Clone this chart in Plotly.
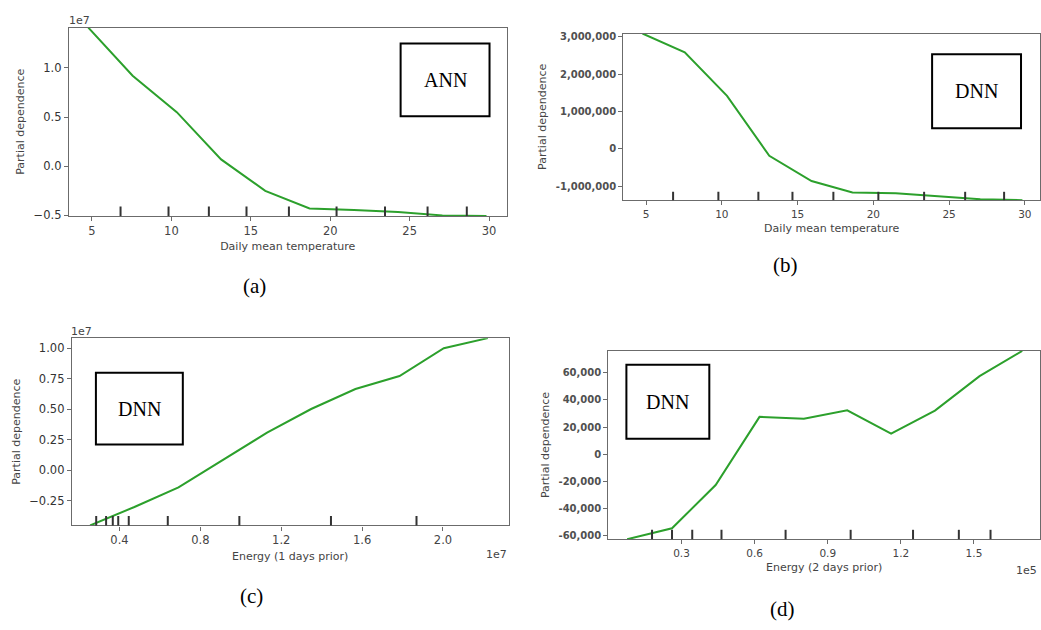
import plotly.graph_objects as go

W, H = 1041, 630

# ---------------- data ----------------
# (a) ANN, daily mean temperature
temp_grid_a = [4.77, 7.56, 10.34, 13.13, 15.91, 18.70, 21.49, 24.27, 27.06, 29.84]
pd_a = [1.41e7, 0.92e7, 0.55e7, 0.07e7, -0.25e7, -0.43e7, -0.445e7, -0.466e7, -0.50e7, -0.505e7]
rug_a = [6.8, 9.82, 12.36, 14.73, 17.4, 20.4, 23.45, 26.13, 28.6]

# (b) DNN, daily mean temperature
temp_grid_b = [4.76, 7.55, 10.34, 13.13, 15.92, 18.62, 21.48, 24.27, 27.06, 29.84]
pd_b = [3087000, 2586000, 1420000, -185000, -860000, -1170000, -1190000, -1260000, -1350000, -1372000]
rug_b = [6.78, 9.77, 12.41, 14.66, 17.36, 20.33, 23.35, 26.06, 28.63]

# (c) DNN, energy 1 day prior (x in 1e7, y in 1e7)
energy1_grid = [0.255, 0.474, 0.692, 0.911, 1.130, 1.348, 1.567, 1.785, 2.004, 2.222]
pd_c = [-0.454, -0.303, -0.142, 0.085, 0.306, 0.50, 0.664, 0.77, 0.998, 1.081]
rug_c = [0.285, 0.334, 0.367, 0.394, 0.446, 0.639, 0.993, 1.446, 1.869]

# (d) DNN, energy 2 days prior (x in 1e5)
energy2_grid = [0.077, 0.261, 0.44, 0.62, 0.802, 0.98, 1.16, 1.34, 1.523, 1.698]
pd_d = [-62600, -54560, -22680, 27540, 26090, 32390, 15220, 32170, 57540, 76100]
rug_d = [0.179, 0.261, 0.344, 0.464, 0.727, 0.994, 1.25, 1.438, 1.568]

xlabels = ["Daily mean temperature", "Daily mean temperature",
           "Energy (1 days prior)", "Energy (2 days prior)"]
models = ["ANN", "DNN", "DNN", "DNN"]
panel_tags = ["(a)", "(b)", "(c)", "(d)"]

a_yticks = [-0.5e7, 0.0, 0.5e7, 1.0e7]
a_yticktext = ["\u22120.5", "0.0", "0.5", "1.0"]
b_yticks = [-1000000, 0, 1000000, 2000000, 3000000]
b_yticktext = ["-1,000,000", "0", "1,000,000", "2,000,000", "3,000,000"]
c_yticks = [-0.25, 0.0, 0.25, 0.5, 0.75, 1.0]
c_yticktext = ["\u22120.25", "0.00", "0.25", "0.50", "0.75", "1.00"]
c_xticks = [0.4, 0.8, 1.2, 1.6, 2.0]
d_yticks = [-60000, -40000, -20000, 0, 20000, 40000, 60000]
d_yticktext = ["-60,000", "-40,000", "-20,000", "0", "20,000", "40,000", "60,000"]
d_xticks = [0.3, 0.6, 0.9, 1.2, 1.5]

# ---------------- layout geometry (pixels) ----------------
def dom_x(l, r):
    return [l / W, min(r / W, 1.0)]

def dom_y(t, b):
    return [1 - b / H, 1 - t / H]

panels = [
    dict(x=temp_grid_a, y=pd_a, rug=rug_a, xd=dom_x(69, 507), yd=dom_y(26, 217),
         xr=[3.55, 31.1]),
    dict(x=temp_grid_b, y=pd_b, rug=rug_b, xd=dom_x(624, 1041), yd=dom_y(32, 201),
         xr=[3.5, 31.0]),
    dict(x=energy1_grid, y=pd_c, rug=rug_c, xd=dom_x(72, 509), yd=dom_y(341, 531),
         xr=[0.165, 2.324]),
    dict(x=energy2_grid, y=pd_d, rug=rug_d, xd=dom_x(609, 1041), yd=dom_y(354, 545),
         xr=[0.0, 1.771]),
]

GREEN = "#2ca02c"
SPINE = "#6b6b6b"

fig = go.Figure()
shapes = []
annotations = []

for i, p in enumerate(panels):
    n = "" if i == 0 else str(i + 1)
    xa, ya = "x" + n, "y" + n
    fig.add_trace(go.Scatter(x=p["x"], y=p["y"], mode="lines",
                             line=dict(color=GREEN, width=2),
                             xaxis=xa, yaxis=ya, showlegend=False,
                             hoverinfo="skip"))
    ymin, ymax = min(p["y"]), max(p["y"])
    bold = i in (1, 3)
    tfont = dict(family="DejaVu Sans", size=10 if bold else 11.5,
                 color="#505050" if bold else "#333333",
                 weight="bold" if bold else "normal")
    xaxis = dict(domain=p["xd"], range=p["xr"], anchor=ya, showline=True,
                 linecolor=SPINE, linewidth=1.3, mirror=True, ticks="outside",
                 ticklen=4, tickcolor=SPINE, showgrid=False, zeroline=False,
                 tickfont=dict(family="DejaVu Sans", size=11.5 if not bold else 10.5,
                               color="#444444"),
                 title=dict(text=xlabels[i], standoff=5,
                            font=dict(family="DejaVu Sans", size=11, color="#444444")))
    yaxis = dict(domain=p["yd"], range=[ymin, ymax], anchor=xa, showline=True,
                 linecolor=SPINE, linewidth=1.3, mirror=True, ticks="outside",
                 ticklen=4, tickcolor=SPINE, showgrid=False, zeroline=False,
                 tickfont=tfont,
                 title=dict(text="Partial dependence", standoff=6,
                            font=dict(family="DejaVu Sans", size=11, color="#444444")))
    if i == 0:
        yaxis.update(tickvals=a_yticks, ticktext=a_yticktext)
        xaxis.update(dtick=5, tick0=5)
    elif i == 1:
        yaxis.update(tickvals=b_yticks, ticktext=b_yticktext)
        xaxis.update(dtick=5, tick0=5)
    elif i == 2:
        yaxis.update(tickvals=c_yticks, ticktext=c_yticktext)
        xaxis.update(tickvals=c_xticks, ticktext=[f"{v:.1f}" for v in c_xticks])
    else:
        yaxis.update(tickvals=d_yticks, ticktext=d_yticktext)
        xaxis.update(tickvals=d_xticks, ticktext=[f"{v:.1f}" for v in d_xticks])
    fig.update_layout(**{"xaxis" + n: xaxis, "yaxis" + n: yaxis})

    for v in p["rug"]:
        shapes.append(dict(type="line", xref=xa, yref=ya + " domain",
                           x0=v, x1=v, y0=0, y1=0.05,
                           line=dict(color="#333333", width=2)))

# model boxes (pixel positions)
boxes = [(401, 42, 490, 116), (933, 53, 1022, 128), (96, 376, 183, 449), (627, 368, 710, 443)]
for (l, t, r, b), m in zip(boxes, models):
    shapes.append(dict(type="rect", xref="paper", yref="paper",
                       x0=l / W, x1=r / W, y0=1 - b / H, y1=1 - t / H,
                       line=dict(color="black", width=2), fillcolor="rgba(0,0,0,0)"))
    annotations.append(dict(text=m, xref="paper", yref="paper",
                            x=(l + r) / 2 / W, y=1 - (t + b) / 2 / H,
                            showarrow=False, xanchor="center", yanchor="middle",
                            font=dict(family="Liberation Serif", size=20, color="black")))

# panel tags
tags_pos = [(255, 288), (786, 267), (252, 603), (783, 616)]
for (x, y), t in zip(tags_pos, panel_tags):
    annotations.append(dict(text=t, xref="paper", yref="paper", x=x / W, y=1 - y / H,
                            showarrow=False, xanchor="center", yanchor="middle",
                            font=dict(family="Liberation Serif", size=21, color="black")))

# exponent offset labels
offs = [("1e7", 80, 19, "center"), ("1e7", 82, 334, "center"),
        ("1e7", 497, 561, "center"), ("1e5", 1040, 577, "right")]
for t, x, y, anc in offs:
    annotations.append(dict(text=t, xref="paper", yref="paper", x=x / W, y=1 - y / H,
                            showarrow=False, xanchor=anc, yanchor="middle",
                            font=dict(family="DejaVu Sans", size=11, color="#444444")))

fig.update_layout(width=W, height=H, margin=dict(l=0, r=0, t=0, b=0),
                  paper_bgcolor="white", plot_bgcolor="white",
                  shapes=shapes, annotations=annotations, showlegend=False)

fig.write_html("out.html")
